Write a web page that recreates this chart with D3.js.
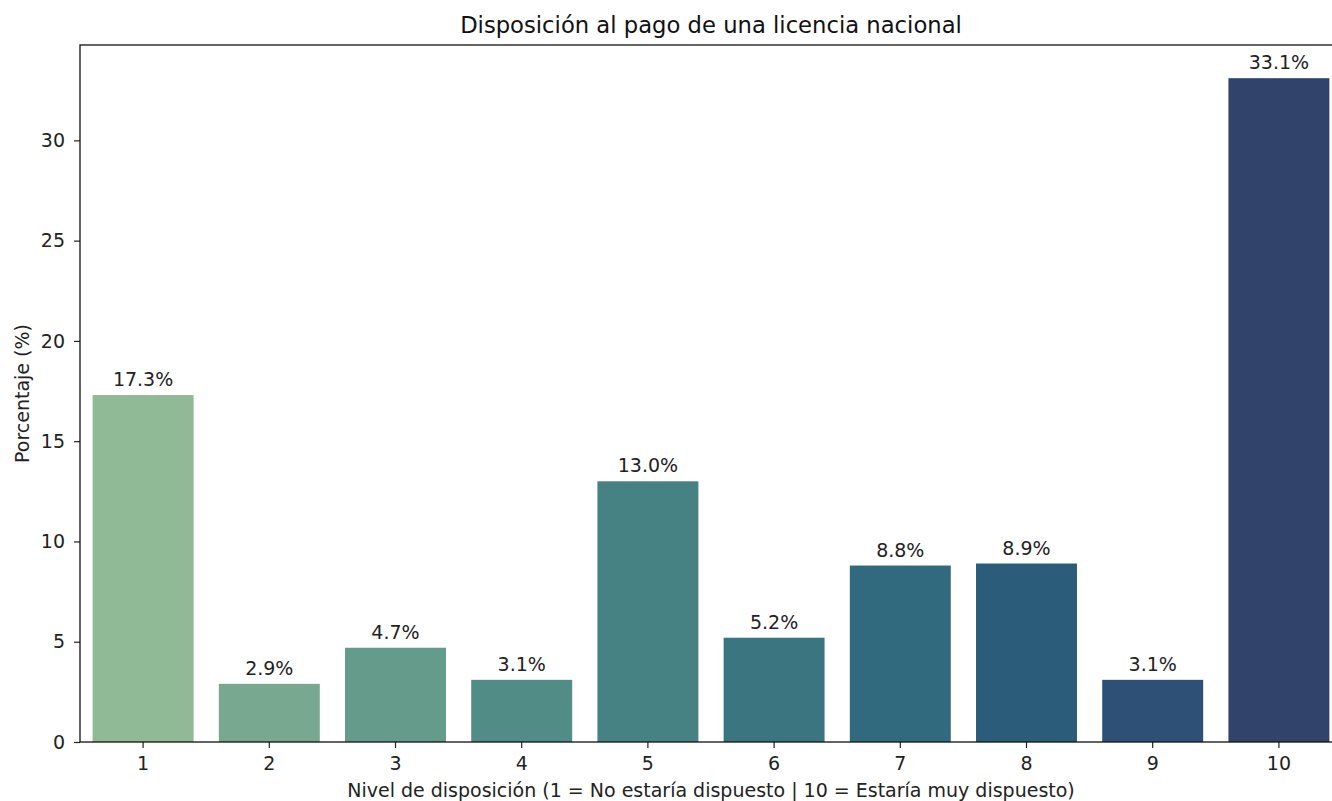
<!DOCTYPE html>
<html><head><meta charset="utf-8">
<script src="https://cdn.jsdelivr.net/npm/d3@7"></script>
<style>body{margin:0;background:#fff}svg{display:block;font-family:"DejaVu Sans",sans-serif}</style>
</head><body><svg id="c" width="1332" height="801"></svg>
<script>
const categories = ["1","2","3","4","5","6","7","8","9","10"];
const values = [17.3, 2.9, 4.7, 3.1, 13.0, 5.2, 8.8, 8.9, 3.1, 33.1];
const colors = ["#8fba95","#78a990","#649b8a","#528c86","#468283","#3b7680","#316a7e","#2b5d7b","#2e4f76","#32436b"];
const yTicks = [0,5,10,15,20,25,30];
const title = "Disposición al pago de una licencia nacional";
const xTitle = "Nivel de disposición (1 = No estaría dispuesto | 10 = Estaría muy dispuesto)";
const yTitle = "Porcentaje (%)";

const svg = d3.select("#c");
const L = 80, R = 1342, T = 45, B = 742;
const x = d3.scaleBand().domain(categories).range([L, R]).paddingInner(0.2).paddingOuter(0.1);
const y = d3.scaleLinear().domain([0, d3.max(values) * 1.05]).range([B, T]);
const fs = "19px";

svg.append("g").selectAll("rect").data(values).join("rect")
  .attr("x", (d, i) => x(categories[i]))
  .attr("y", d => y(d))
  .attr("width", x.bandwidth())
  .attr("height", d => B - y(d))
  .attr("fill", (d, i) => colors[i]);

svg.append("g").selectAll("text").data(values).join("text")
  .attr("x", (d, i) => x(categories[i]) + x.bandwidth() / 2)
  .attr("y", d => y(d) - 9)
  .attr("text-anchor", "middle")
  .attr("font-size", fs).attr("fill", "#222")
  .text(d => d.toFixed(1) + "%");

const xa = svg.append("g").attr("transform", `translate(0,${B})`)
  .call(d3.axisBottom(x).tickSize(6).tickPadding(9).tickSizeOuter(0));
const ya = svg.append("g").attr("transform", `translate(${L},0)`)
  .call(d3.axisLeft(y).tickValues(yTicks).tickSize(6).tickPadding(9).tickSizeOuter(0));
[xa, ya].forEach(a => {
  a.selectAll("text").attr("font-size", fs).attr("font-family", "DejaVu Sans").attr("fill", "#222");
  a.selectAll("line").attr("stroke", "#222").attr("stroke-width", 1.2);
  a.select(".domain").remove();
});
// spines
svg.append("rect").attr("x", L).attr("y", T).attr("width", R - L).attr("height", B - T)
  .attr("fill", "none").attr("stroke", "#111").attr("stroke-width", 1.3);

svg.append("text").attr("x", (L + R) / 2).attr("y", 33).attr("text-anchor", "middle")
  .attr("font-size", "22.7px").attr("fill", "#111").text(title);
svg.append("text").attr("x", (L + R) / 2).attr("y", 797).attr("text-anchor", "middle")
  .attr("font-size", fs).attr("fill", "#222").text(xTitle);
svg.append("text").attr("transform", `translate(29,${(T + B) / 2}) rotate(-90)`)
  .attr("text-anchor", "middle").attr("font-size", fs).attr("fill", "#222").text(yTitle);
</script></body></html>
